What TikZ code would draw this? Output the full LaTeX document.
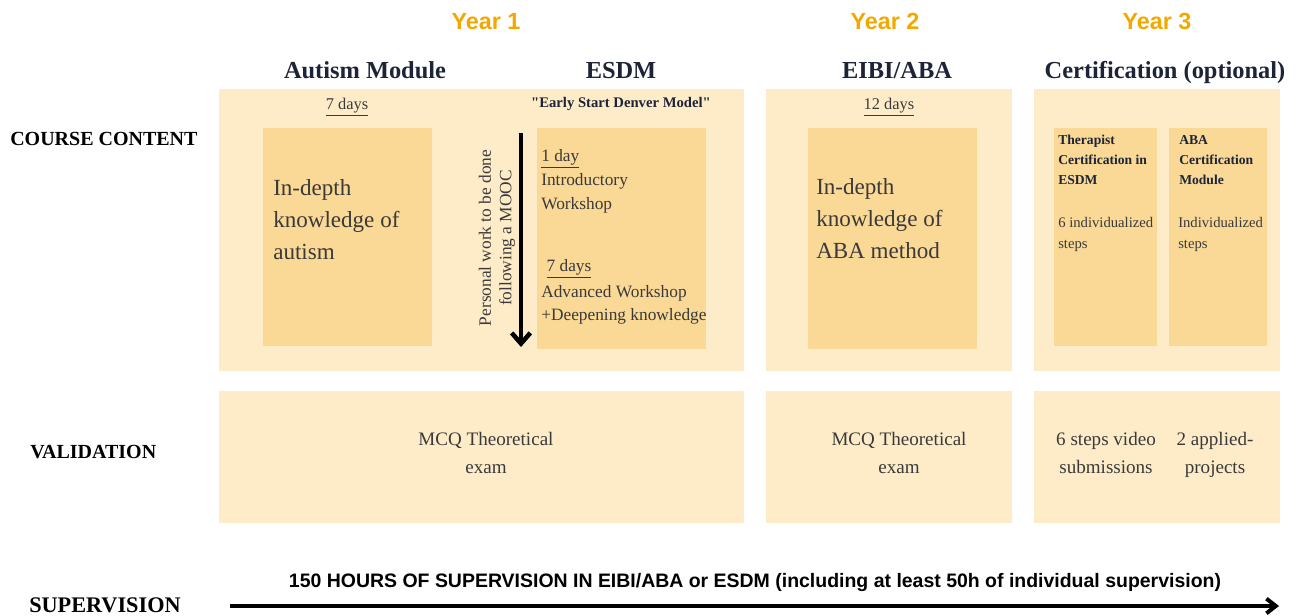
\documentclass[tikz,border=0pt]{standalone}
\usepackage{fontspec}
\setmainfont{Liberation Serif}
\newfontfamily\headsans{Liberation Sans}
\usetikzlibrary{arrows.meta}
\definecolor{yearorange}{RGB}{242,168,0}
\definecolor{panelbg}{RGB}{254,236,200}
\definecolor{cardbg}{RGB}{250,216,150}
\definecolor{headnavy}{RGB}{30,36,56}
\definecolor{bodygray}{RGB}{58,58,58}

\begin{document}
\begin{tikzpicture}[x=0.75pt,y=0.75pt,yscale=-1,xscale=1,
    panel/.style={fill=panelbg},
    card/.style={fill=cardbg},
    yearlbl/.style={inner sep=0pt,text=yearorange,font=\headsans\bfseries\fontsize{17.5}{20}\selectfont},
    headlbl/.style={inner sep=0pt,text=headnavy,font=\bfseries\fontsize{18.3}{21}\selectfont},
    rowlbl/.style={inner sep=0pt,text=black,font=\bfseries\fontsize{15}{18}\selectfont},
    bigtxt/.style={inner sep=0pt,align=left,text=bodygray,font=\fontsize{17.3}{24}\selectfont},
    steptxt/.style={inner sep=0pt,align=left,text=bodygray,font=\fontsize{13}{17.5}\selectfont},
    certhead/.style={inner sep=0pt,align=left,text=headnavy,font=\bfseries\fontsize{10.2}{15}\selectfont},
    certtxt/.style={inner sep=0pt,align=left,text=bodygray,font=\fontsize{11}{15.75}\selectfont},
    valtxt/.style={inner sep=0pt,align=center,text=bodygray,font=\fontsize{14.3}{21}\selectfont},
    daystxt/.style={inner sep=0pt,text=bodygray,font=\fontsize{12.3}{14}\selectfont}]
    \useasboundingbox (0,0) rectangle (1299,616);

    %Shape: Rectangle
    \fill[panel] (219,89) rectangle (744,371);
    %Shape: Rectangle
    \fill[panel] (766,89) rectangle (1012,371);
    %Shape: Rectangle
    \fill[panel] (1034,89) rectangle (1280,371);
    %Shape: Rectangle
    \fill[panel] (219,391) rectangle (744,523);
    %Shape: Rectangle
    \fill[panel] (766,391) rectangle (1012,523);
    %Shape: Rectangle
    \fill[panel] (1034,391) rectangle (1280,523);

    %Shape: Rectangle
    \fill[card] (263,128) rectangle (432,346);
    %Shape: Rectangle
    \fill[card] (537,128) rectangle (706,349);
    %Shape: Rectangle
    \fill[card] (808,128) rectangle (977,349);
    %Shape: Rectangle
    \fill[card] (1054,128) rectangle (1157,346);
    %Shape: Rectangle
    \fill[card] (1169,128) rectangle (1267,346);

    % Text Node
    \node[yearlbl,anchor=base] (yearA) at (486,30) {Year 1};
    % Text Node
    \node[yearlbl,anchor=base] (yearB) at (885,30) {Year 2};
    % Text Node
    \node[yearlbl,anchor=base] (yearC) at (1157,30) {Year 3};

    % Text Node
    \node[headlbl,anchor=base] (hAutism) at (365,79) {Autism Module};
    % Text Node
    \node[headlbl,anchor=base] (hEsdm) at (621,79) {ESDM};
    % Text Node
    \node[headlbl,anchor=base] (hEibi) at (897,79) {EIBI/ABA};
    % Text Node
    \node[headlbl,anchor=base] (hCert) at (1165,79) {Certification (optional)};

    % Text Node
    \node[rowlbl,anchor=base west] (rContent) at (10,146) {COURSE CONTENT};
    % Text Node
    \node[rowlbl,anchor=base west] (rValid) at (30,458) {VALIDATION};
    % Text Node
    \node[rowlbl,anchor=base west,font=\bfseries\fontsize{16.7}{18}\selectfont] (rSuper) at (29,612) {SUPERVISION};

    % Text Node
    \node[daystxt,anchor=base] (dAutism) at (347,110) {\underline{7 days}};
    % Text Node
    \node[inner sep=0pt,anchor=base,text=headnavy,font=\bfseries\fontsize{11}{13}\selectfont] (dEsdm) at (621,108) {\textquotedbl Early Start Denver Model\textquotedbl};
    % Text Node
    \node[daystxt,anchor=base] (dEibi) at (889,110) {\underline{12 days}};

    % Text Node
    \node[bigtxt,anchor=north west] (tAutism) at (273,179) {In-depth\\knowledge of\\autism};
    % Text Node
    \node[bigtxt,anchor=north west] (tEibi) at (816,178) {In-depth\\knowledge of\\ABA method};

    % Text Node
    \node[steptxt,anchor=north west] (tIntro) at (541,149) {\underline{1 day}\\[1pt]Introductory\\Workshop};
    % Text Node
    \node[steptxt,anchor=north west] (tAdv) at (541,259) {\hspace{4pt}\underline{7 days}\\[2pt]Advanced Workshop\\+Deepening knowledge};

    % Text Node
    \node[steptxt,rotate=90,align=center,font=\fontsize{13}{15.5}\selectfont] (tMooc) at (497,238) {Personal work to be done\\following a MOOC};
    %Straight Lines
    \coordinate (moocTop) at (521,133);
    \coordinate (moocEnd) at (521,347);
    \draw[line width=3.4pt,-{Straight Barb[length=8pt,width=14pt]}] (moocTop) -- (moocEnd);

    % Text Node
    \node[certhead,anchor=north west] (cTher) at (1058,135) {Therapist\\Certification in\\ESDM};
    % Text Node
    \node[certtxt,anchor=north west] (cTherSteps) at (1058,217) {6 individualized\\steps};
    % Text Node
    \node[certhead,anchor=north west] (cAba) at (1179,135) {ABA\\Certification\\Module};
    % Text Node
    \node[certtxt,anchor=north west] (cAbaSteps) at (1178,217) {Individualized\\steps};

    % Text Node
    \node[valtxt,anchor=north] (vYearA) at (486,432) {MCQ Theoretical\\exam};
    % Text Node
    \node[valtxt,anchor=north] (vYearB) at (899,432) {MCQ Theoretical\\exam};
    % Text Node
    \node[valtxt,anchor=north] (vVideo) at (1106,432) {6 steps video\\submissions};
    % Text Node
    \node[valtxt,anchor=north] (vProj) at (1215,432) {2 applied-\\projects};

    % Text Node
    \node[inner sep=0pt,anchor=base,font=\headsans\bfseries\fontsize{14.6}{16}\selectfont] (sText) at (755,587) {150 HOURS OF SUPERVISION IN EIBI/ABA or ESDM (including at least 50h of individual supervision)};
    %Straight Lines
    \coordinate (superStart) at (230,606);
    \coordinate (superEnd) at (1279,606);
    \draw[line width=3pt,-{Straight Barb[length=7pt,width=11pt]}] (superStart) -- (superEnd);

\end{tikzpicture}
\end{document}
